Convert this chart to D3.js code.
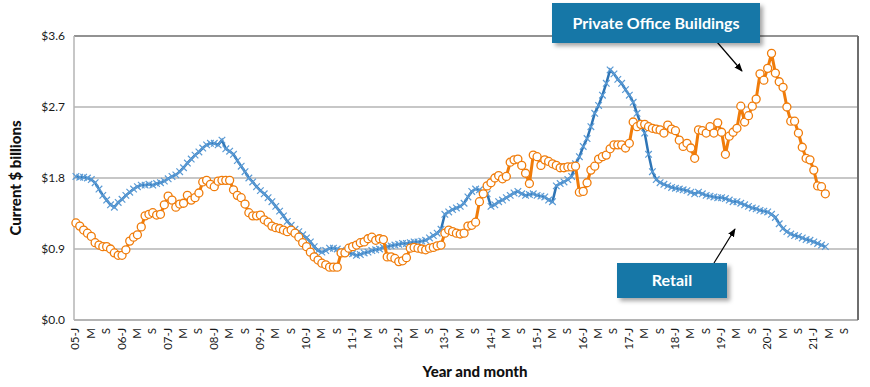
<!DOCTYPE html>
<html>
<head>
<meta charset="utf-8">
<script src="https://cdn.jsdelivr.net/npm/d3@7"></script>
<style>
  body { margin: 0; background: #fff; }
  text { font-family: Lato, "Open Sans", sans-serif; }
</style>
</head>
<body>
<div id="chart"></div>
<script>
// monthly values, $ billions, Jan 2005 .. Apr 2021
var years = d3.range(2005, 2022);
var monthLetters = ["J","F","M","A","M","J","J","A","S","O","N","D"];
var tickMonths = [0, 4, 8]; // J, M, S get a label

var office = [
  1.23,1.19,1.14,1.10,1.06,0.98,0.95,0.93,0.93,0.90,0.85,0.82, // 2005
  0.82,0.89,1.00,1.05,1.08,1.18,1.32,1.34,1.36,1.33,1.34,1.46, // 2006
  1.57,1.52,1.43,1.47,1.48,1.58,1.52,1.55,1.61,1.75,1.77,1.72, // 2007
  1.69,1.76,1.77,1.77,1.77,1.65,1.58,1.55,1.47,1.36,1.32,1.32, // 2008
  1.33,1.27,1.24,1.19,1.17,1.16,1.14,1.12,1.14,1.10,1.05,0.98, // 2009
  0.93,0.86,0.80,0.76,0.72,0.70,0.67,0.67,0.67,0.85,0.85,0.91, // 2010
  0.93,0.95,0.98,0.99,1.03,1.05,1.01,1.03,1.02,0.80,0.80,0.78, // 2011
  0.74,0.75,0.79,0.91,0.92,0.91,0.90,0.89,0.91,0.92,0.94,0.95, // 2012
  1.10,1.14,1.12,1.10,1.09,1.10,1.19,1.20,1.24,1.50,1.60,1.70, // 2013
  1.74,1.80,1.83,1.79,1.82,2.00,2.03,2.04,1.96,1.86,1.73,2.09, // 2014
  2.07,1.96,2.03,2.01,1.98,1.96,1.93,1.93,1.94,1.94,1.95,1.62, // 2015
  1.63,1.74,1.90,1.95,2.04,2.07,2.09,2.17,2.22,2.22,2.22,2.18, // 2016
  2.24,2.51,2.45,2.48,2.48,2.45,2.43,2.42,2.41,2.37,2.47,2.42, // 2017
  2.40,2.28,2.20,2.24,2.18,2.05,2.41,2.40,2.37,2.45,2.37,2.50, // 2018
  2.38,2.10,2.33,2.38,2.43,2.71,2.51,2.59,2.71,2.80,3.12,3.04, // 2019
  3.19,3.38,3.13,3.02,2.95,2.70,2.52,2.52,2.37,2.19,2.05,2.03, // 2020
  1.90,1.70,1.69,1.60                                          // 2021
];

var retail = [
  1.82,1.81,1.81,1.80,1.78,1.74,1.66,1.58,1.52,1.46,1.43,1.49, // 2005
  1.53,1.58,1.62,1.66,1.69,1.71,1.71,1.72,1.71,1.73,1.74,1.76, // 2006
  1.79,1.82,1.84,1.88,1.93,1.99,2.04,2.09,2.13,2.18,2.22,2.24, // 2007
  2.24,2.22,2.28,2.17,2.14,2.10,2.02,1.95,1.88,1.80,1.75,1.69, // 2008
  1.64,1.60,1.55,1.50,1.44,1.38,1.32,1.25,1.20,1.15,1.12,1.08, // 2009
  1.04,0.99,0.93,0.88,0.86,0.88,0.91,0.91,0.90,0.88,0.86,0.85, // 2010
  0.84,0.82,0.83,0.85,0.86,0.88,0.89,0.90,0.92,0.93,0.94,0.95, // 2011
  0.96,0.97,0.97,0.98,0.99,0.99,1.00,1.01,1.04,1.07,1.10,1.15, // 2012
  1.34,1.37,1.40,1.42,1.44,1.48,1.56,1.63,1.66,1.65,1.62,1.60, // 2013
  1.44,1.46,1.50,1.52,1.55,1.58,1.61,1.63,1.60,1.58,1.59,1.60, // 2014
  1.58,1.57,1.56,1.52,1.50,1.70,1.73,1.75,1.78,1.82,1.98,2.07, // 2015
  2.20,2.30,2.45,2.62,2.72,2.85,3.00,3.17,3.12,3.05,3.00,2.92, // 2016
  2.85,2.76,2.62,2.48,2.37,2.10,1.88,1.78,1.74,1.72,1.70,1.68, // 2017
  1.67,1.66,1.65,1.64,1.62,1.60,1.62,1.60,1.58,1.57,1.56,1.55, // 2018
  1.55,1.54,1.52,1.50,1.50,1.48,1.46,1.44,1.42,1.41,1.39,1.38, // 2019
  1.37,1.34,1.30,1.22,1.16,1.12,1.09,1.07,1.06,1.04,1.02,1.01, // 2020
  0.99,0.97,0.95,0.93                                          // 2021
];

var yTicks = [0, 0.9, 1.8, 2.7, 3.6];

var W = 870, H = 387;
var margin = {top: 36, right: 12, bottom: 67, left: 74};

var svg = d3.select("#chart").append("svg")
    .attr("width", W)
    .attr("height", H);

var defs = svg.append("defs");
var shadow = defs.append("filter").attr("id", "shadow")
    .attr("x", "-10%").attr("y", "-20%").attr("width", "130%").attr("height", "160%");
shadow.append("feDropShadow")
    .attr("dx", 3).attr("dy", 3).attr("stdDeviation", 2)
    .attr("flood-color", "#000").attr("flood-opacity", 0.35);
var arrowHead = defs.append("marker").attr("id", "arrow")
    .attr("viewBox", "0 0 10 10").attr("refX", 9).attr("refY", 5)
    .attr("markerWidth", 7).attr("markerHeight", 7).attr("orient", "auto");
arrowHead.append("path").attr("d", "M0,1 L10,5 L0,9 Z").attr("fill", "#000");

// categories: every month 2005-2021
var months = [];
years.forEach(function(yr) {
  monthLetters.forEach(function(m, k) {
    months.push({yr: yr, k: k, label: k === 0 ? String(yr).slice(2) + "-J" : m});
  });
});

var x = d3.scaleBand()
    .domain(d3.range(months.length))
    .range([margin.left, W - margin.right]);
var xc = function(i) { return x(i) + x.bandwidth() / 2; };

var y = d3.scaleLinear()
    .domain([0, 3.6])
    .range([H - margin.bottom, margin.top]);

// gridlines
svg.append("g")
    .selectAll("line")
    .data(yTicks)
    .enter().append("line")
    .attr("x1", margin.left)
    .attr("x2", W - margin.right)
    .attr("y1", function(d) { return y(d); })
    .attr("y2", function(d) { return y(d); })
    .attr("stroke", function(d) { return d === 3.6 ? "#6e6e6e" : "#b4b4b4"; })
    .attr("stroke-width", function(d) { return d === 0 ? 2 : 1.5; });

// plot frame: left light, right dark
svg.append("line")
    .attr("x1", margin.left).attr("x2", margin.left)
    .attr("y1", y(3.6)).attr("y2", y(0))
    .attr("stroke", "#b4b4b4").attr("stroke-width", 1.5);
svg.append("line")
    .attr("x1", W - margin.right).attr("x2", W - margin.right)
    .attr("y1", y(3.6)).attr("y2", y(0))
    .attr("stroke", "#6e6e6e").attr("stroke-width", 2);

// y axis labels
svg.append("g")
    .selectAll("text")
    .data(yTicks)
    .enter().append("text")
    .attr("x", 65)
    .attr("y", function(d) { return y(d); })
    .attr("dy", "0.35em")
    .attr("text-anchor", "end")
    .attr("font-size", 12)
    .attr("fill", "#1a1a1a")
    .text(function(d) { return "$" + d.toFixed(1); });

// x axis labels
var tickIdx = d3.range(months.length).filter(function(i) { return tickMonths.indexOf(months[i].k) >= 0; });
svg.append("g")
    .selectAll("text")
    .data(tickIdx)
    .enter().append("text")
    .attr("transform", function(i) { return "translate(" + (xc(i) - 0.5) + "," + 328 + ") rotate(-90)"; })
    .attr("dy", "0.35em")
    .attr("text-anchor", "end")
    .attr("font-size", 11.5)
    .attr("fill", "#1a1a1a")
    .text(function(i) { return months[i].label; });

// axis titles
svg.append("text")
    .attr("transform", "translate(" + 21 + "," + 178 + ") rotate(-90)")
    .attr("text-anchor", "middle")
    .attr("font-size", 15)
    .attr("font-weight", 900)
    .attr("fill", "#111")
    .text("Current $ billions");

svg.append("text")
    .attr("x", 475)
    .attr("y", 377)
    .attr("text-anchor", "middle")
    .attr("font-size", 15)
    .attr("font-weight", 900)
    .attr("fill", "#111")
    .text("Year and month");

// retail series
var line = d3.line()
    .x(function(d, i) { return xc(i); })
    .y(function(d) { return y(d); });

svg.append("path")
    .datum(retail)
    .attr("fill", "none")
    .attr("stroke", "#2e75b6")
    .attr("stroke-width", 2.5)
    .attr("d", line);

svg.append("g")
    .selectAll("path")
    .data(retail)
    .enter().append("path")
    .attr("transform", function(d, i) { return "translate(" + xc(i) + "," + y(d) + ")"; })
    .attr("d", d3.symbol().type(d3.symbolTimes).size(30))
    .attr("fill", "none")
    .attr("stroke", "#5b9bd5")
    .attr("stroke-width", 1.2);

// office series
svg.append("path")
    .datum(office)
    .attr("fill", "none")
    .attr("stroke", "#f07c0a")
    .attr("stroke-width", 3)
    .attr("d", line);

svg.append("g")
    .selectAll("circle")
    .data(office)
    .enter().append("circle")
    .attr("cx", function(d, i) { return xc(i); })
    .attr("cy", function(d) { return y(d); })
    .attr("r", 4)
    .attr("fill", "#fff")
    .attr("stroke", "#f07c0a")
    .attr("stroke-width", 1.3);

// callouts
function callout(x0, y0, w, h, label, ax1, ay1, ax2, ay2) {
  svg.append("line")
      .attr("x1", ax1).attr("y1", ay1).attr("x2", ax2).attr("y2", ay2)
      .attr("stroke", "#000").attr("stroke-width", 1.2)
      .attr("marker-end", "url(#arrow)");
  svg.append("rect")
      .attr("x", x0).attr("y", y0).attr("width", w).attr("height", h)
      .attr("fill", "#1677a7")
      .attr("filter", "url(#shadow)");
  svg.append("text")
      .attr("x", x0 + w / 2).attr("y", y0 + h / 2)
      .attr("dy", "0.35em")
      .attr("text-anchor", "middle")
      .attr("font-size", 16)
      .attr("font-weight", "bold")
      .attr("fill", "#fff")
      .text(label);
}
callout(552, 3, 208, 40, "Private Office Buildings", 717, 42, 742, 71);
callout(617, 263, 110, 35, "Retail", 714, 263, 735, 229);
</script>
</body>
</html>
